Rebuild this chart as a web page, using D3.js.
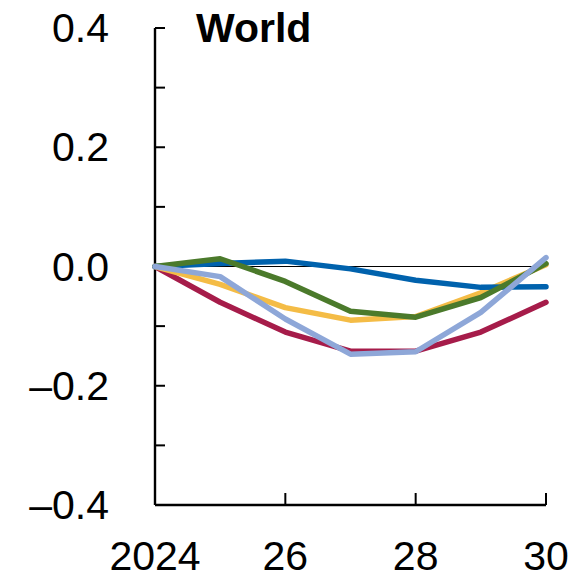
<!DOCTYPE html>
<html>
<head>
    <title>World</title>
    <script src="https://cdnjs.cloudflare.com/ajax/libs/d3/7.8.5/d3.min.js"></script>
    <style>
        html, body {
            margin: 0;
            padding: 0;
            background-color: white;
            font-family: 'Liberation Sans', Arial, sans-serif;
        }
    </style>
</head>
<body>
    <div id="chart"></div>
    <script>
        const years = [2024, 2025, 2026, 2027, 2028, 2029, 2030];
        const xTickYears = [2024, 2026, 2028, 2030];
        const xTickLabels = ["2024", "26", "28", "30"];
        const yTicks = [-0.4, -0.3, -0.2, -0.1, 0, 0.1, 0.2, 0.3, 0.4];
        const yLabelTicks = [-0.4, -0.2, 0, 0.2, 0.4];

        const redSeries = [0, -0.060, -0.110, -0.142, -0.142, -0.110, -0.060];
        const yellowSeries = [0, -0.030, -0.069, -0.090, -0.084, -0.044, 0.003];
        const blueSeries = [0, 0.005, 0.009, -0.004, -0.023, -0.035, -0.034];
        const greenSeries = [0, 0.013, -0.025, -0.075, -0.085, -0.052, 0.005];
        const lightBlueSeries = [0, -0.017, -0.088, -0.147, -0.143, -0.077, 0.015];

        const series = [
            { values: redSeries, color: "#A61C4A" },
            { values: yellowSeries, color: "#F4BC46" },
            { values: blueSeries, color: "#0062AD" },
            { values: greenSeries, color: "#4B7A2B" },
            { values: lightBlueSeries, color: "#8EA7D8" }
        ];

        const width = 575, height = 576;
        const margin = { left: 155, right: 29, top: 28, bottom: 71 };

        const svg = d3.select("#chart")
            .append("svg")
            .attr("width", width)
            .attr("height", height);

        const x = d3.scaleLinear()
            .domain([2024, 2030])
            .range([margin.left, width - margin.right]);

        const y = d3.scaleLinear()
            .domain([-0.4, 0.4])
            .range([height - margin.bottom, margin.top]);

        // zero line
        svg.append("line")
            .attr("x1", x(2024))
            .attr("x2", x(2030))
            .attr("y1", y(0))
            .attr("y2", y(0))
            .attr("stroke", "black")
            .attr("stroke-width", 1.2);

        // y axis
        svg.append("line")
            .attr("x1", x(2024)).attr("x2", x(2024))
            .attr("y1", y(0.4)).attr("y2", y(-0.4))
            .attr("stroke", "black").attr("stroke-width", 2.4);

        svg.selectAll(".ytick")
            .data(yTicks)
            .enter()
            .append("line")
            .attr("class", "ytick")
            .attr("x1", x(2024))
            .attr("x2", x(2024) + 10)
            .attr("y1", d => y(d))
            .attr("y2", d => y(d))
            .attr("stroke", "black")
            .attr("stroke-width", 2);

        svg.selectAll(".ylabel")
            .data(yLabelTicks)
            .enter()
            .append("text")
            .attr("class", "ylabel")
            .attr("x", 109)
            .attr("y", d => y(d) + 14)
            .attr("text-anchor", "end")
            .attr("font-size", "41px")
            .text(d => d === 0 ? "0.0" : (d < 0 ? "\u2013" + Math.abs(d).toFixed(1) : d.toFixed(1)));

        // x axis
        svg.append("line")
            .attr("x1", x(2024)).attr("x2", x(2030))
            .attr("y1", y(-0.4)).attr("y2", y(-0.4))
            .attr("stroke", "black").attr("stroke-width", 2.4);

        svg.selectAll(".xtick")
            .data(xTickYears.slice(1))
            .enter()
            .append("line")
            .attr("class", "xtick")
            .attr("x1", d => x(d))
            .attr("x2", d => x(d))
            .attr("y1", y(-0.4))
            .attr("y2", y(-0.4) - 12)
            .attr("stroke", "black")
            .attr("stroke-width", 2);

        svg.selectAll(".xlabel")
            .data(xTickYears)
            .enter()
            .append("text")
            .attr("class", "xlabel")
            .attr("x", d => x(d))
            .attr("y", 570)
            .attr("text-anchor", "middle")
            .attr("font-size", "41px")
            .text((d, i) => xTickLabels[i]);

        // lines
        const line = d3.line()
            .x((d, i) => x(years[i]))
            .y(d => y(d));

        svg.selectAll(".series")
            .data(series)
            .enter()
            .append("path")
            .attr("class", "series")
            .attr("d", d => line(d.values))
            .attr("fill", "none")
            .attr("stroke", d => d.color)
            .attr("stroke-width", 5.5)
            .attr("stroke-linejoin", "round")
            .attr("stroke-linecap", "round");

        svg.append("text")
            .attr("x", 196)
            .attr("y", 42)
            .attr("font-size", "41px")
            .attr("font-weight", "bold")
            .text("World");
    </script>
</body>
</html>
